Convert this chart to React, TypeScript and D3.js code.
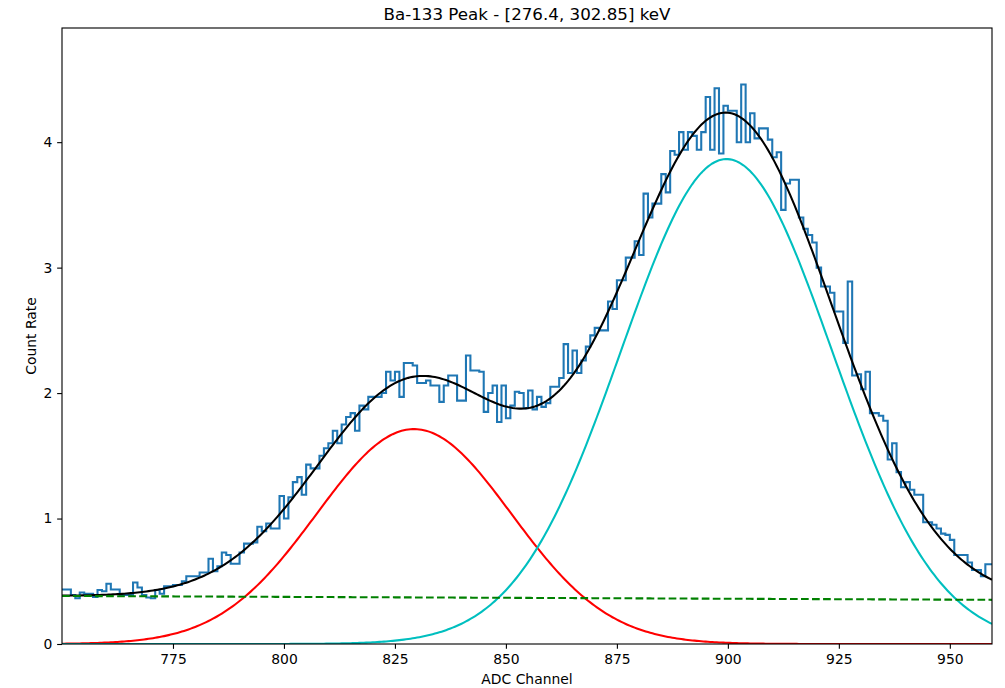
import * as d3 from "d3";
import { useEffect, useRef } from "react";

// histogram: one value per ADC channel, starting at channel 750
const channelStart = 750;
const countRate = [
  0.435, 0.435, 0.39, 0.365, 0.41, 0.4, 0.4, 0.375, 0.43, 0.42,
  0.48, 0.435, 0.435, 0.39, 0.39, 0.39, 0.49, 0.45, 0.39, 0.37,
  0.365, 0.43, 0.4, 0.46, 0.46, 0.47, 0.47, 0.5, 0.54, 0.54,
  0.54, 0.57, 0.57, 0.68, 0.58, 0.62, 0.73, 0.71, 0.64, 0.64,
  0.73, 0.8, 0.8, 0.81, 0.935, 0.9, 0.96, 0.92, 0.92, 1.18,
  1.0, 1.17, 1.29, 1.33, 1.19, 1.43, 1.4, 1.4, 1.5, 1.56,
  1.6, 1.7, 1.6, 1.75, 1.81, 1.84, 1.7, 1.9, 1.87, 1.97,
  1.97, 1.97, 2.0, 2.17, 2.1, 2.17, 1.97, 2.24, 2.24, 2.22,
  2.08, 2.08, 2.1, 2.06, 2.06, 1.93, 2.06, 2.14, 2.14, 1.94,
  1.94, 2.3, 2.18, 2.18, 2.17, 1.85, 2.0, 2.06, 1.77, 2.06,
  1.8, 1.9, 2.01, 2.0, 1.88, 2.02, 1.87, 1.97, 1.89, 1.92,
  2.05, 2.05, 2.12, 2.39, 2.16, 2.34, 2.16, 2.26, 2.37, 2.46,
  2.52, 2.5, 2.5, 2.73, 2.67, 2.9, 2.9, 3.08, 3.08, 3.21,
  3.1, 3.59, 3.4, 3.51, 3.51, 3.745, 3.6, 3.93, 3.9, 4.08,
  3.94, 4.08, 4.05, 3.94, 4.08, 4.36, 3.94, 4.43, 3.91, 4.29,
  4.25, 4.25, 4.0, 4.46, 4.0, 4.23, 4.03, 4.11, 4.11, 4.02,
  3.88, 3.92, 3.46, 3.67, 3.7, 3.7, 3.4, 3.31, 3.26, 3.2,
  3.0, 2.85, 2.85, 2.8, 2.65, 2.65, 2.4, 2.89, 2.14, 2.15,
  2.03, 2.17, 1.84, 1.84, 1.82, 1.78, 1.47, 1.6, 1.37, 1.25,
  1.29, 1.23, 1.19, 1.19, 0.97, 0.97, 0.95, 0.92, 0.88, 0.87,
  0.83, 0.71, 0.71, 0.71, 0.65, 0.59, 0.59, 0.54, 0.635, 0.635,
];

// fitted model: two gaussians on a linear background
const peakCenters = [829.3, 899.7];
const peakAmps = [1.713, 3.865];
const peakSigmas = [21.9, 23.7];
const peakColors = ["#ff0000", "#00bfbf"];
const bgChannels = [750, 959.5];
const bgLevels = [0.383, 0.352];

const xTicks = [775, 800, 825, 850, 875, 900, 925, 950];
const yTicks = [0, 1, 2, 3, 4];

const width = 1005;
const height = 688;
const margin = { top: 28, right: 13, bottom: 44, left: 62 };
const font = "'DejaVu Sans', sans-serif";

export default function App() {
  const ref = useRef<SVGSVGElement>(null);

  useEffect(() => {
    const svg = d3.select(ref.current);
    svg.selectAll("*").remove();

    const iw = width - margin.left - margin.right;
    const ih = height - margin.top - margin.bottom;

    const x = d3.scaleLinear().domain([750, 959.5]).range([0, iw]);
    const y = d3.scaleLinear().domain([0, 4.91]).range([ih, 0]);

    svg.append("rect").attr("width", width).attr("height", height).attr("fill", "#fff");

    svg
      .append("defs")
      .append("clipPath")
      .attr("id", "plot-clip")
      .append("rect")
      .attr("width", iw)
      .attr("height", ih);

    const g = svg
      .append("g")
      .attr("transform", `translate(${margin.left},${margin.top})`);

    const plot = g.append("g").attr("clip-path", "url(#plot-clip)");

    // step histogram
    const steps: [number, number][] = countRate.map((v, i) => [channelStart + i, v]);
    steps.push([channelStart + countRate.length, countRate[countRate.length - 1]]);
    const stepLine = d3
      .line<[number, number]>()
      .x((d) => x(d[0]))
      .y((d) => y(d[1]))
      .curve(d3.curveStepAfter);
    plot
      .append("path")
      .attr("d", stepLine(steps))
      .attr("fill", "none")
      .attr("stroke", "#1f77b4")
      .attr("stroke-width", 2.08);

    const bgSlope = (bgLevels[1] - bgLevels[0]) / (bgChannels[1] - bgChannels[0]);
    const background = (c: number) => bgLevels[0] + (c - bgChannels[0]) * bgSlope;
    const gauss = (k: number, c: number) =>
      peakAmps[k] * Math.exp(-((c - peakCenters[k]) ** 2) / (2 * peakSigmas[k] ** 2));

    const grid = d3.range(bgChannels[0], bgChannels[1] + 0.25, 0.5);
    const curve = d3
      .line<number>()
      .x((c) => x(c))
      .y(() => y(0))
      .curve(d3.curveLinear);

    // total fit
    plot
      .append("path")
      .attr("d", curve.y((c) => y(background(c) + gauss(0, c) + gauss(1, c)))(grid))
      .attr("fill", "none")
      .attr("stroke", "#000")
      .attr("stroke-width", 2.08);

    peakCenters.forEach((_, k) => {
      plot
        .append("path")
        .attr("d", curve.y((c) => y(gauss(k, c)))(grid))
        .attr("fill", "none")
        .attr("stroke", peakColors[k])
        .attr("stroke-width", 2.08);
    });

    plot
      .append("path")
      .attr("d", curve.y((c) => y(background(c)))(grid))
      .attr("fill", "none")
      .attr("stroke", "#008000")
      .attr("stroke-width", 2.08)
      .attr("stroke-dasharray", "7.7,3.33");

    // axes
    const xAxis = g
      .append("g")
      .attr("transform", `translate(0,${ih})`)
      .call(
        d3
          .axisBottom(x)
          .tickValues(xTicks)
          .tickFormat(d3.format("d"))
          .tickSize(4.86)
          .tickPadding(4.86)
          .tickSizeOuter(0)
      );
    const yAxis = g
      .append("g")
      .call(
        d3
          .axisLeft(y)
          .tickValues(yTicks)
          .tickFormat(d3.format("d"))
          .tickSize(4.86)
          .tickPadding(4.86)
          .tickSizeOuter(0)
      );

    [xAxis, yAxis].forEach((a) => {
      a.select(".domain").remove();
      a.attr("font-size", 13.9).attr("font-family", font);
      a.selectAll("line").attr("stroke-width", 1.11);
    });

    g.append("rect")
      .attr("width", iw)
      .attr("height", ih)
      .attr("fill", "none")
      .attr("stroke", "#000")
      .attr("stroke-width", 1.11);

    svg
      .append("text")
      .attr("x", margin.left + iw / 2)
      .attr("y", 20)
      .attr("text-anchor", "middle")
      .attr("font-family", font)
      .attr("font-size", 16.7)
      .text("Ba-133 Peak - [276.4, 302.85] keV");

    svg
      .append("text")
      .attr("x", margin.left + iw / 2)
      .attr("y", 684)
      .attr("text-anchor", "middle")
      .attr("font-family", font)
      .attr("font-size", 13.9)
      .text("ADC Channel");

    svg
      .append("text")
      .attr("transform", `translate(36,${margin.top + ih / 2}) rotate(-90)`)
      .attr("text-anchor", "middle")
      .attr("font-family", font)
      .attr("font-size", 13.9)
      .text("Count Rate");
  }, []);

  return (
    <svg
      ref={ref}
      width={width}
      height={height}
      style={{ position: "absolute", left: 0, top: 0, display: "block" }}
    />
  );
}
